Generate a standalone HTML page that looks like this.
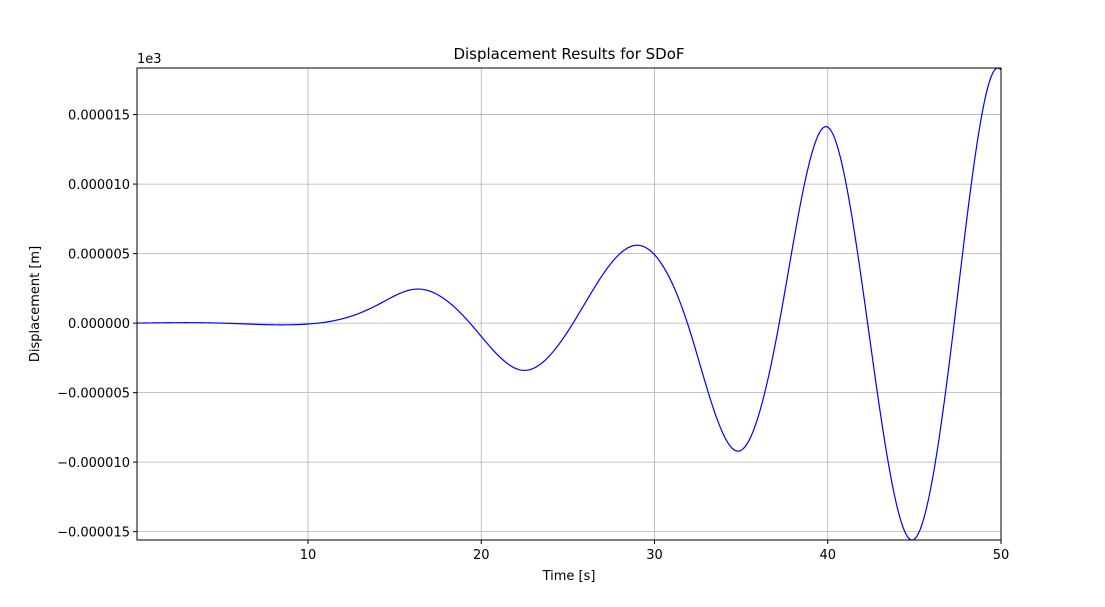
<!DOCTYPE html>
<html><head><meta charset="utf-8"><style>
body{margin:0;background:#fff;}
svg text{font-family:"DejaVu Sans","Liberation Sans",sans-serif;font-size:13px;fill:#000;}
</style></head><body>
<svg id="chart" width="1105" height="602" viewBox="0 0 1105 602" xmlns="http://www.w3.org/2000/svg">
<rect width="1105" height="602" fill="#fff"/>
<g id="grid"></g>
<g id="ticks"></g>
<clipPath id="clip"><rect x="137" y="68" width="864" height="472"/></clipPath>
<path id="line" fill="none" stroke="#0000ff" stroke-width="1.2" clip-path="url(#clip)"/>
<rect x="137" y="68" width="864" height="472" fill="none" stroke="#000" stroke-width="1"/>
<text x="569" y="59" text-anchor="middle" style="font-size:15px">Displacement Results for SDoF</text>
<text x="569" y="580" text-anchor="middle">Time [s]</text>
<text transform="translate(39,304) rotate(-90)" text-anchor="middle">Displacement [m]</text>
<text x="137" y="63">1e3</text>
</svg>
<script>
const times=[0.13,5,9.5,12.5,14,16.35,19.35,22.5,25.3,29,31.9,34.9,37.2,40,42.3,44.9,47.3,49.8,50.1];
const disp=[0,0,-0.1,0.5,1.3,2.45,0,-3.4,0,5.6,0,-9.2,0,14.1,0,-15.6,0,18.35,18.1];
const xTicks=[10,20,30,40,50];
const yTicks=[-15,-10,-5,0,5,10,15];
const yTickLabels=["\u22120.000015","\u22120.000010","\u22120.000005","0.000000","0.000005","0.000010","0.000015"];
const X0=0.13,X1=50.0,Y0=-15.6,Y1=18.35,L=137,R=1001,T=68,B=540;
function sx(v){return L+(v-X0)/(X1-X0)*(R-L);}
function sy(v){return B-(v-Y0)/(Y1-Y0)*(B-T);}
const NS="http://www.w3.org/2000/svg";
const grid=document.getElementById('grid'),ticks=document.getElementById('ticks');
xTicks.forEach(t=>{
 const x=sx(t);
 const g=document.createElementNS(NS,'line');
 
 
 g.setAttribute('x1',x);g.setAttribute('x2',x);g.setAttribute('y1',T);g.setAttribute('y2',B);
 g.setAttribute('stroke','#b0b0b0');g.setAttribute('stroke-width','0.8');grid.appendChild(g);
 const k=document.createElementNS(NS,'line');
 
 
 k.setAttribute('x1',x);k.setAttribute('x2',x);k.setAttribute('y1',B);k.setAttribute('y2',B+4);k.setAttribute('stroke','#000');ticks.appendChild(k);
 const tx=document.createElementNS(NS,'text');
 
 
 tx.setAttribute('x',x);tx.setAttribute('y',B+19);tx.setAttribute('text-anchor','middle');tx.textContent=t;ticks.appendChild(tx);
});
yTicks.forEach((t,i)=>{
 const y=sy(t);
 const g=document.createElementNS(NS,'line');
 
 
 g.setAttribute('x1',L);g.setAttribute('x2',R);g.setAttribute('y1',y);g.setAttribute('y2',y);
 g.setAttribute('stroke','#b0b0b0');g.setAttribute('stroke-width','0.8');grid.appendChild(g);
 const k=document.createElementNS(NS,'line');
 
 
 k.setAttribute('x1',L-4);k.setAttribute('x2',L);k.setAttribute('y1',y);k.setAttribute('y2',y);k.setAttribute('stroke','#000');ticks.appendChild(k);
 const tx=document.createElementNS(NS,'text');
 
 
 tx.setAttribute('x',L-7);tx.setAttribute('y',y+5);tx.setAttribute('text-anchor','end');tx.textContent=yTickLabels[i];ticks.appendChild(tx);
});
// natural cubic spline through data, sampled in time space
const n=times.length, h=[], M=new Array(n).fill(0);
for(let i=0;i<n-1;i++) h.push(times[i+1]-times[i]);
const a=new Array(n).fill(0),b=new Array(n).fill(1),c=new Array(n).fill(0),r=new Array(n).fill(0);
for(let i=1;i<n-1;i++){
 a[i]=h[i-1]; b[i]=2*(h[i-1]+h[i]); c[i]=h[i];
 r[i]=6*((disp[i+1]-disp[i])/h[i]-(disp[i]-disp[i-1])/h[i-1]);
}
for(let i=1;i<n;i++){const w=a[i]/b[i-1];b[i]-=w*c[i-1];r[i]-=w*r[i-1];}
M[n-1]=r[n-1]/b[n-1];
for(let i=n-2;i>=0;i--) M[i]=(r[i]-c[i]*M[i+1])/b[i];
let d='';
for(let i=0;i<n-1;i++){
 const steps=Math.max(4,Math.ceil(h[i]*12));
 for(let s=(i===0?0:1);s<=steps;s++){
  const t=times[i]+h[i]*s/steps;
  const A=(times[i+1]-t)/h[i],Bc=(t-times[i])/h[i];
  const y=A*disp[i]+Bc*disp[i+1]+((A*A*A-A)*M[i]+(Bc*Bc*Bc-Bc)*M[i+1])*h[i]*h[i]/6;
  d+=(d?' L':'M')+sx(t).toFixed(2)+','+sy(y).toFixed(2);
 }
}
document.getElementById('line').setAttribute('d',d);
</script>
</body></html>
